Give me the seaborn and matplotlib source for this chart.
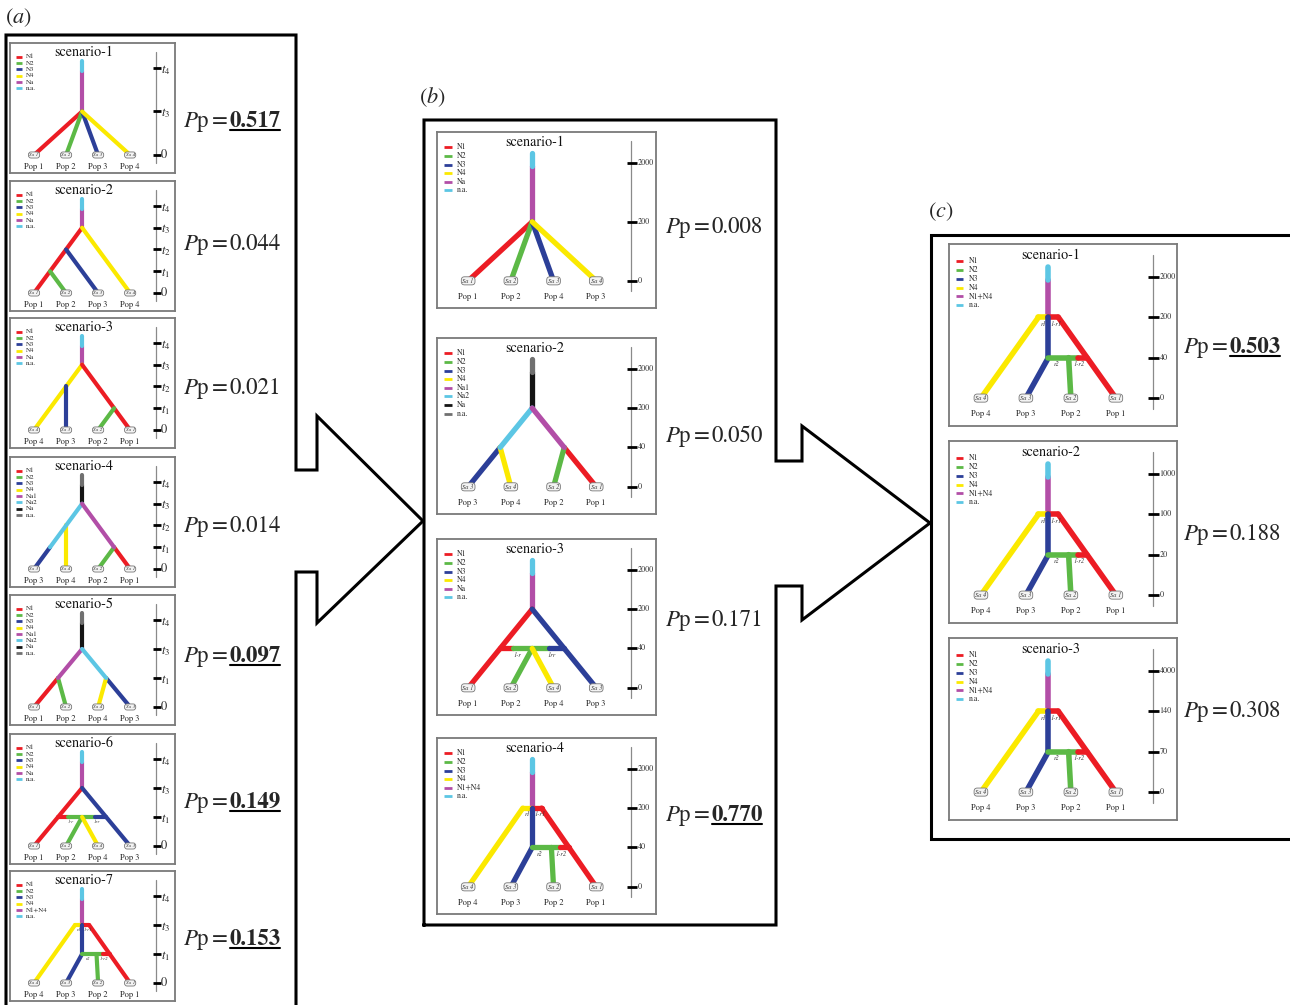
import numpy as np
import pandas as pd
import matplotlib.pyplot as plt
import seaborn as sns

sns.set_theme(style="white")
plt.rcParams["font.family"] = ["STIXGeneral", "DejaVu Sans"]
plt.rcParams["mathtext.fontset"] = "stix"

W, H = 1290, 1005

# colours of the population / ancestor sizes
red, green, blue, yellow = "#ec1c24", "#5cb946", "#2c3f98", "#fbe900"
magenta, cyan, black, grey = "#b24ea7", "#5cc6e4", "#141414", "#707070"

leg_plain = ["N1", "N2", "N3", "N4", "Na", "n.a."]
leg_plain_col = [red, green, blue, yellow, magenta, cyan]
leg_two = ["N1", "N2", "N3", "N4", "Na1", "Na2", "Na", "n.a."]
leg_two_col = [red, green, blue, yellow, magenta, cyan, black, grey]
leg_mix = ["N1", "N2", "N3", "N4", "N1+N4", "n.a."]
leg_mix_col = [red, green, blue, yellow, magenta, cyan]
LEGENDS = {"plain": (leg_plain, leg_plain_col),
           "two": (leg_two, leg_two_col),
           "mix": (leg_mix, leg_mix_col)}

# ---- panel (a): seven scenarios
a_pp = [0.517, 0.044, 0.021, 0.014, 0.097, 0.149, 0.153]
a_best = [True, False, False, False, True, True, True]
a_pops = [[1, 2, 3, 4], [1, 2, 3, 4], [4, 3, 2, 1], [3, 4, 2, 1],
          [1, 2, 4, 3], [1, 2, 4, 3], [4, 3, 2, 1]]
a_samples = a_pops
a_ticks = [["0", "t3", "t4"],
           ["0", "t1", "t2", "t3", "t4"],
           ["0", "t1", "t2", "t3", "t4"],
           ["0", "t1", "t2", "t3", "t4"],
           ["0", "t1", "t3", "t4"],
           ["0", "t1", "t3", "t4"],
           ["0", "t1", "t3", "t4"]]
a_legend = ["plain", "plain", "plain", "two", "two", "plain", "mix"]
a_shape = ["star", "ladder", "comb", "split_late", "split", "admix", "admix2"]
a_anc = [None, None, None, ("Na2", "Na1"), ("Na1", "Na2"), None, None]

# ---- panel (b): four scenarios
b_pp = [0.008, 0.050, 0.171, 0.770]
b_best = [False, False, False, True]
b_pops = [[1, 2, 4, 3], [3, 4, 2, 1], [1, 2, 4, 3], [4, 3, 2, 1]]
b_samples = [[1, 2, 3, 4], [3, 4, 2, 1], [1, 2, 4, 3], [4, 3, 2, 1]]
b_ticks = [["0", "200", "2000"],
           ["0", "40", "200", "2000"],
           ["0", "40", "200", "2000"],
           ["0", "40", "200", "2000"]]
b_legend = ["plain", "two", "plain", "mix"]
b_shape = ["star", "split", "admix", "admix2"]
b_anc = [None, ("Na2", "Na1"), None, None]

# ---- panel (c): three scenarios
c_pp = [0.503, 0.188, 0.308]
c_best = [True, False, False]
c_pops = [[4, 3, 2, 1], [4, 3, 2, 1], [4, 3, 2, 1]]
c_samples = c_pops
c_ticks = [["0", "40", "200", "2000"],
           ["0", "20", "100", "1000"],
           ["0", "70", "140", "4000"]]
c_legend = ["mix", "mix", "mix"]
c_shape = ["admix2", "admix2", "admix2"]
c_anc = [None, None, None]

# layout of each column (pixels)
st_a = dict(x0=10, w=165, h=130, tops=[43, 181, 318, 457, 595, 734, 871],
            xlim=(-0.75, 4.4), ylim=(-0.207, 1.287), lw=3.0, fs_leg=5.0,
            fs_tick=9.0, fs_sa=3.8, fs_adm=3.6, math=True,
            pp_x=183, pp_y=[127, 250, 394, 532, 662, 808, 945])
st_b = dict(x0=437, w=219, h=176, tops=[132, 338, 539, 738],
            xlim=(-0.73, 4.40), ylim=(-0.23, 1.26), lw=3.8, fs_leg=5.6,
            fs_tick=5.8, fs_sa=4.6, fs_adm=4.6, math=False,
            pp_x=665, pp_y=[233, 442, 626, 821])
st_c = dict(x0=949, w=228, h=182, tops=[244, 441, 638],
            xlim=(-0.71, 4.36), ylim=(-0.23, 1.27), lw=4.0, fs_leg=5.6,
            fs_tick=5.8, fs_sa=4.6, fs_adm=4.6, math=False,
            pp_x=1183, pp_y=[353, 540, 717])


def on(p, q, y):
    # point of the line p-q at height y
    f = (y - p[1]) / (q[1] - p[1])
    return (p[0] + f * (q[0] - p[0]), y)


def branches(shape, h, smp, anc):
    L = [(float(i), 0.0) for i in range(4)]
    k = [f"N{s}" for s in smp]
    R = (1.5, h[-2])
    if shape == "star":
        return [(R, L[i], k[i]) for i in range(4)]
    if shape == "ladder":
        return [(R, L[0], k[0]), (on(R, L[0], h[2]), L[2], k[2]),
                (on(R, L[0], h[1]), L[1], k[1]), (R, L[3], k[3])]
    if shape == "comb":
        return [(R, L[0], k[0]), (on(R, L[0], h[2]), L[1], k[1]),
                (R, L[3], k[3]), (on(R, L[3], h[1]), L[2], k[2])]
    if shape in ("split", "split_late"):
        A, B = on(R, L[0], h[1]), on(R, L[3], h[1])
        left = on(R, L[0], h[2]) if shape == "split_late" else A
        return [(A, L[0], k[0]), (left, L[1], k[1]), (R, A, anc[0]),
                (B, L[3], k[3]), (B, L[2], k[2]), (R, B, anc[1])]
    if shape == "admix":
        A, B, M = on(R, L[0], h[1]), on(R, L[3], h[1]), (1.5, h[1])
        e1, e2 = (1.05, h[1]), (1.9, h[1])
        return [(R, L[0], k[0]), (R, L[3], k[3]), (A, e1, k[0]),
                (e1, e2, k[1]), (e2, B, k[3]), (M, L[1], k[1]), (M, L[2], k[2])]
    # two successive admixture events
    P, Q, T = (1.28, h[-2]), (1.72, h[-2]), (1.5, h[1])
    C = on(Q, L[3], h[1])
    e = (2.15, h[1])
    return [(P, L[0], k[0]), (Q, L[3], k[3]), (P, R, k[0]), (R, Q, k[3]),
            (R, T, k[1]), (T, L[1], k[1]), (T, e, k[2]), (e, C, k[3]),
            ((1.95, h[1]), L[2], k[2])]


def admix_labels(shape, h):
    if shape == "admix":
        return [("1-r", 1.15, h[1]), ("1rr", 1.95, h[1])]
    if shape == "admix2":
        return [("r1", 1.4, h[-2]), ("1-r1", 1.68, h[-2]),
                ("r2", 1.68, h[1]), ("1-r2", 2.18, h[1])]
    return []


fig = plt.figure(figsize=(W / 100, H / 100), dpi=100)
bg = fig.add_axes([0, 0, 1, 1])
bg.set_xlim(0, W)
bg.set_ylim(H, 0)
bg.axis("off")


def draw_panel(st, top, title, pops, smp, ticks, legend, shape, anc):
    ax = fig.add_axes([st["x0"] / W, 1 - (top + st["h"]) / H, st["w"] / W, st["h"] / H])
    names, cols = LEGENDS[legend]
    cmap = dict(zip(names, cols))
    h = np.linspace(0, 1, len(ticks))

    segs = [((1.5, h[-2]), (1.5, 0.97), names[-2]), ((1.5, 0.97), (1.5, 1.08), names[-1])]
    segs += branches(shape, h, smp, anc)
    rows = []
    for n, (p, q, key) in enumerate(segs):
        rows.append(dict(x=p[0], y=p[1], seg=f"s{n}"))
        rows.append(dict(x=q[0], y=q[1], seg=f"s{n}"))
    df = pd.DataFrame(rows)
    pal = {f"s{n}": cmap[key] for n, (p, q, key) in enumerate(segs)}
    sns.lineplot(data=df, x="x", y="y", hue="seg", units="seg", estimator=None,
                 sort=False, palette=pal, legend=False, ax=ax,
                 linewidth=st["lw"], solid_capstyle="round")

    for txt, xx, yy in admix_labels(shape, h):
        ax.text(xx, yy - 0.055, txt, fontsize=st["fs_adm"], style="italic",
                ha="center", va="center", color="#333333")

    # legend
    for j, (nm, c) in enumerate(zip(names, cols)):
        yy = 1.13 - j * 0.073
        ax.plot([-0.56, -0.39], [yy, yy], color=c, lw=2.0, solid_capstyle="butt")
        ax.text(-0.26, yy, nm, fontsize=st["fs_leg"], ha="left", va="center", color="#222222")
    ax.text(1.55, 1.175, title, fontsize=10.2, ha="center", va="center", color="#111111")

    # time axis
    ax.plot([3.82, 3.82], [-0.09, 1.18], color="#8a8a8a", lw=0.9)
    for lab, hv in zip(ticks, h):
        ax.plot([3.72, 3.95], [hv, hv], color="black", lw=2.0, solid_capstyle="butt")
        if st["math"] and lab.startswith("t"):
            ax.text(3.97, hv - 0.02, f"$t_{lab[1:]}$", fontsize=st["fs_tick"], ha="left", va="center")
        else:
            ax.text(3.97, hv, lab, fontsize=st["fs_tick"], ha="left", va="center")

    # sampled populations
    for i in range(4):
        ax.text(i, 0, f"Sa {smp[i]}", fontsize=st["fs_sa"], style="italic", ha="center",
                va="center", color="#333333",
                bbox=dict(boxstyle="round,pad=0.18,rounding_size=0.5", fc="#f3f3f3", ec="#777777", lw=0.6))
        ax.text(i, -0.135, f"Pop {pops[i]}", fontsize=6.0, ha="center", va="center", color="#222222")

    ax.set_xlim(*st["xlim"])
    ax.set_ylim(*st["ylim"])
    ax.set_xticks([])
    ax.set_yticks([])
    ax.set_xlabel("")
    ax.set_ylabel("")
    for sp in ax.spines.values():
        sp.set_visible(True)
        sp.set_color("#7a7a7a")
        sp.set_linewidth(1.3)


renderer = fig.canvas.get_renderer()


def pp_label(x, y, value, best):
    t1 = bg.text(x, y, r"$P\mathrm{p}$", fontsize=16.5, va="baseline", ha="left")
    x1 = t1.get_window_extent(renderer).x1 + 2
    t2 = bg.text(x1, y, "=", fontsize=16.5, va="baseline", ha="left")
    x2 = t2.get_window_extent(renderer).x1 + 2
    t3 = bg.text(x2, y, f"{value:.3f}", fontsize=16.5, va="baseline", ha="left",
                 fontweight="bold" if best else "normal")
    if best:
        bb = t3.get_window_extent(renderer)
        bg.plot([bb.x0 + 0.5, bb.x1 - 0.5], [y + 2.5, y + 2.5], color="black", lw=1.5)


columns = [
    (st_a, a_pp, a_best, a_pops, a_samples, a_ticks, a_legend, a_shape, a_anc),
    (st_b, b_pp, b_best, b_pops, b_samples, b_ticks, b_legend, b_shape, b_anc),
    (st_c, c_pp, c_best, c_pops, c_samples, c_ticks, c_legend, c_shape, c_anc),
]
for st, pp, best, pops, smp, ticks, leg, shp, anc in columns:
    for i in range(len(pp)):
        draw_panel(st, st["tops"][i], f"scenario-{i + 1}", pops[i], smp[i],
                   ticks[i], leg[i], shp[i], anc[i])
        pp_label(st["pp_x"], st["pp_y"][i], pp[i], best[i])

# frames and arrows linking the three steps
frame_a = [(6, 1012), (6, 35), (296, 35), (296, 470), (317, 470), (317, 416),
           (423, 521), (317, 623), (317, 572), (296, 572), (296, 1012)]
frame_b = [(424, 925), (424, 120), (776, 120), (776, 461), (802, 461), (802, 426),
           (930, 523), (802, 620), (802, 586), (776, 586), (776, 925), (424, 925)]
frame_c = [(1296, 839), (931, 839), (931, 235), (1296, 235)]
for fr in (frame_a, frame_b, frame_c):
    xs, ys = zip(*fr)
    bg.plot(xs, ys, color="black", lw=2.2, solid_joinstyle="miter", solid_capstyle="projecting")

bg.text(5, 23, r"$(a)$", fontsize=16, va="baseline", ha="left")
bg.text(419, 103, r"$(b)$", fontsize=16, va="baseline", ha="left")
bg.text(928, 217, r"$(c)$", fontsize=16, va="baseline", ha="left")

fig.savefig("out.png", dpi=100)
